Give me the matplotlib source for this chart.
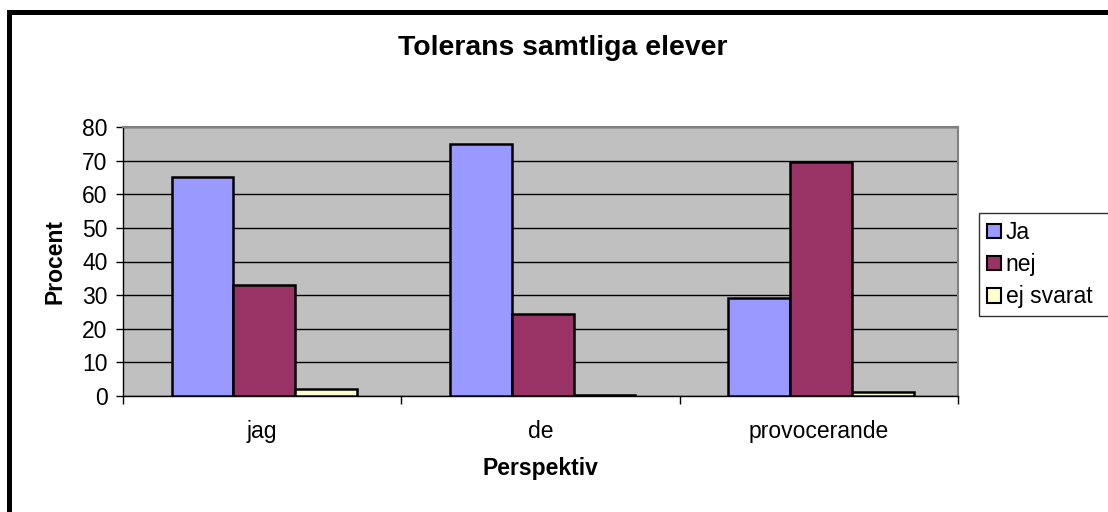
import numpy as np
import matplotlib
matplotlib.use("Agg")
import matplotlib.pyplot as plt
from matplotlib.patches import Rectangle

plt.rcParams['font.family'] = ['Liberation Sans', 'DejaVu Sans']

# data
kategorier = ["jag", "de", "provocerande"]
serier = ["Ja", "nej", "ej svarat"]
ja = [65, 75, 29]
nej = [33, 24.5, 69.6]
ej_svarat = [2, 0.3, 1.1]
farger = ["#9999FF", "#993366", "#FFFFCC"]
yticks = [0, 10, 20, 30, 40, 50, 60, 70, 80]

fs = 16.5

fig = plt.figure(figsize=(11.08, 5.12), dpi=100)
ax = fig.add_axes([123 / 1108, 1 - 396 / 512, 835 / 1108, 269 / 512])
ax.set_facecolor("#C0C0C0")

x = np.arange(len(kategorier))
w = 0.222
for i, (namn, vals) in enumerate(zip(serier, [ja, nej, ej_svarat])):
    ax.bar(x + (i - 1) * w + 0.008, vals, w, color=farger[i], edgecolor="black",
           linewidth=1.8, label=namn, zorder=3)

ax.set_xlim(-0.5, 2.5)
ax.set_ylim(0, 80)
ax.set_yticks(yticks)
ax.yaxis.grid(True, color="black", linewidth=1.0, zorder=1)
ax.set_axisbelow(True)

# kategorier i mitten, streck mellan grupperna
ax.set_xticks(x)
ax.set_xticklabels(kategorier, fontsize=fs)
ax.set_xticks([-0.5, 0.5, 1.5, 2.5], minor=True)
ax.tick_params(axis="x", which="major", length=0, pad=17)
ax.tick_params(axis="x", which="minor", length=6, direction="out", width=1)
ax.tick_params(axis="y", length=5, direction="out", width=1, labelsize=fs, pad=6)

for s in ["top", "right"]:
    ax.spines[s].set_color("#808080")
    ax.spines[s].set_linewidth(1.5)
for s in ["left", "bottom"]:
    ax.spines[s].set_color("black")
    ax.spines[s].set_linewidth(1.0)

fig.text(0.508, 1 - 48 / 512, "Tolerans samtliga elever", ha="center", va="center",
         fontsize=20.4, fontweight="bold")
fig.text(55 / 1108, 1 - 262 / 512, "Procent", ha="center", va="center",
         rotation=90, fontsize=fs, fontweight="bold")
fig.text(540 / 1108, 1 - 468 / 512, "Perspektiv", ha="center", va="center",
         fontsize=fs, fontweight="bold")

# legenden går ut över högra kanten som i originalet
leg = fig.legend(loc="upper left", mode="expand",
                 bbox_to_anchor=(979 / 1108, 1 - 316 / 512, 150 / 1108, 103 / 512),
                 fontsize=fs, frameon=True, fancybox=False, handlelength=0.6,
                 handleheight=0.6, handletextpad=0.22, labelspacing=0.4,
                 borderpad=0.35, borderaxespad=0)
leg.get_frame().set_edgecolor("black")
leg.get_frame().set_linewidth(1.0)
for h in leg.legend_handles:
    h.set_linewidth(1.5)

# ram runt hela diagrammet
fig.patches.append(Rectangle((8.5 / 1108, -0.1), 1.2, 1 - 12 / 512 + 0.1,
                             transform=fig.transFigure, fill=False,
                             edgecolor="black", linewidth=3.6))

fig.savefig("out.png", dpi=100)
